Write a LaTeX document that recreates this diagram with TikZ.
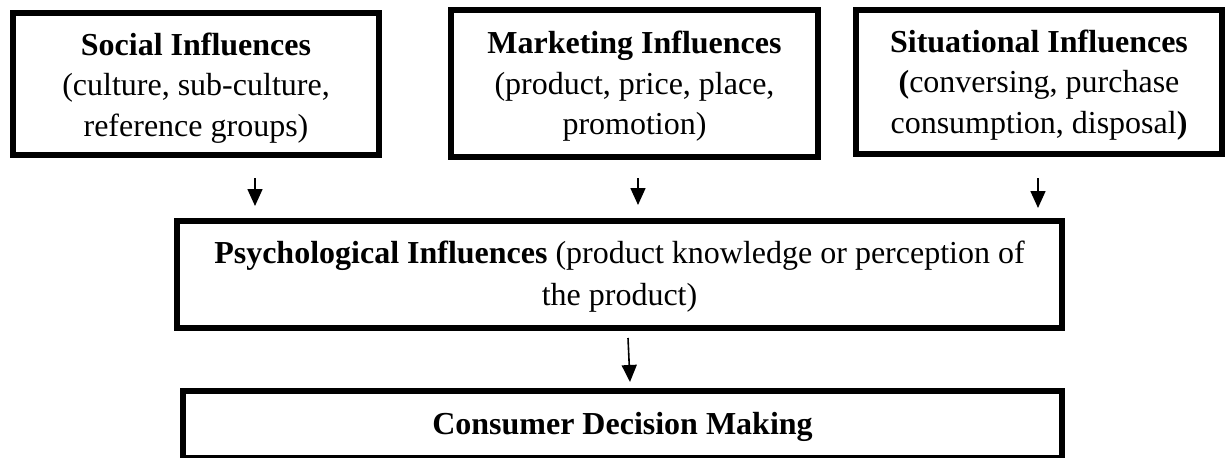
\documentclass[tikz,border=0pt]{standalone}
\usepackage{fontspec}
\setmainfont{Liberation Serif}
\usetikzlibrary{arrows.meta}

\tikzset{
  frame/.style={draw=black, line width=6pt, fill=white, inner sep=0pt},
  caption/.style={inner sep=0pt, align=center, font=\fontsize{32}{40.5}\selectfont},
  flow/.style={line width=1.6pt, -{Triangle[length=17pt,width=15pt]}}
}

\begin{document}
\begin{tikzpicture}[x=1pt,y=-1pt]
  \useasboundingbox (0,0) rectangle (1227,458);
  \clip (0,0) rectangle (1227,458);

  % the three groups of outside influences
  \node[frame, minimum width=366pt, minimum height=142pt] (social) at (196,84) {};
  \node[caption, yshift=-4pt] (socialtext) at (social.center)
    {\textbf{Social Influences}\\(culture, sub-culture,\\reference groups)};
  \node[frame, minimum width=367pt, minimum height=147pt] (marketing) at (634.5,83.5) {};
  \node[caption, yshift=-3pt] (marketingtext) at (marketing.center)
    {\textbf{Marketing Influences}\\(product, price, place,\\promotion)};
  \node[frame, minimum width=366pt, minimum height=144pt] (situational) at (1039,82) {};
  \node[caption, yshift=-3pt] (situationaltext) at (situational.center)
    {\textbf{Situational Influences}\\\textbf{(}conversing, purchase\\consumption, disposal\textbf{)}};

  % inner influence and the outcome
  \node[frame, minimum width=885pt, minimum height=107pt] (psych) at (619.5,274.5) {};
  \node[caption, font=\fontsize{32}{42.5}\selectfont, yshift=-2pt] (psychtext) at (psych.center)
    {\textbf{Psychological Influences} (product knowledge or perception of\\the product)};
  \node[frame, minimum width=879pt, minimum height=67pt] (decision) at (622.5,424) {};
  \node[caption, yshift=-3pt] (decisiontext) at (decision.center)
    {\textbf{Consumer Decision Making}};

  % short arrows between the rows
  \coordinate (a1s) at (255,178);  \coordinate (a1e) at (255,206);
  \coordinate (a2s) at (638,178);  \coordinate (a2e) at (638,205);
  \coordinate (a3s) at (1038,178); \coordinate (a3e) at (1038,208);
  \coordinate (a4s) at (628,338);  \coordinate (a4e) at (630,382);
  \draw[flow] (a1s) -- (a1e);
  \draw[flow] (a2s) -- (a2e);
  \draw[flow] (a3s) -- (a3e);
  \draw[flow] (a4s) -- (a4e);
\end{tikzpicture}
\end{document}
